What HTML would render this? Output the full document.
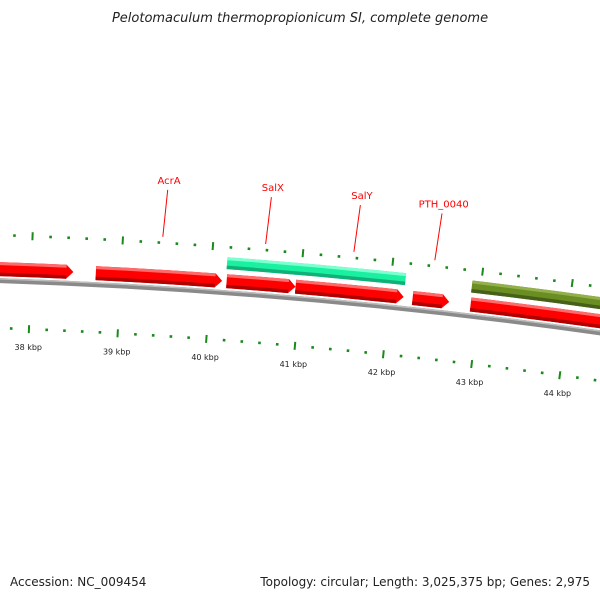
<!DOCTYPE html>
<html><head><meta charset="utf-8">
<style>
html,body{margin:0;padding:0;background:#fff;}
svg{display:block;font-family:"DejaVu Sans","Liberation Sans",sans-serif;}
</style></head>
<body>
<svg id="chart" width="600" height="600" viewBox="0 0 600 600">
<text x="300" y="22" text-anchor="middle" font-size="13" font-style="italic" fill="#222">Pelotomaculum thermopropionicum SI, complete genome</text>
<g id="ticks"></g>
<g id="backbone"></g>
<g id="genes"></g>
<g id="labels"></g>
<text x="10" y="586" font-size="12" fill="#222">Accession: NC_009454</text>
<text x="590" y="586" font-size="12" fill="#222" text-anchor="end">Topology: circular; Length: 3,025,375 bp; Genes: 2,975</text>
</svg>
<script>
// data
const geneStarts = [36.0, 38.72, 40.18, 40.95, 42.26, 42.91, 40.17, 42.90];
const geneEnds   = [38.47, 40.13, 40.95, 42.16, 42.67, 46.0, 42.16, 46.0];
const geneRows   = [0, 0, 0, 0, 0, 0, 1, 1];
const geneKinds  = ['cds','cds','cds','cds','cds','cds','cyan','olive'];
const tickLabelsKbp = [37, 38, 39, 40, 41, 42, 43, 44, 45];
const geneLabelNames = ['AcrA', 'SalX', 'SalY', 'PTH_0040'];
const geneLabelKbp = [39.44, 40.58, 41.56, 42.46];

const NS = 'http://www.w3.org/2000/svg';
const CX = -187, CY = 5902, R = 5625;
const PHI38 = 0.03873, DPHI = 0.01593;
function ang(k){ return PHI38 + (k-38)*DPHI; }
function pt(r, a){ return [CX + r*Math.sin(a), CY - r*Math.cos(a)]; }
function mk(tag, attrs, parent){ const e=document.createElementNS(NS,tag); for(const k in attrs) e.setAttribute(k,attrs[k]); parent.appendChild(e); return e; }
function arcBand(r1, r2, a1, a2, arrow){
  const rm=(r1+r2)/2;
  let ab = arrow ? a2 - 7/rm : a2;
  const p1=pt(r1,a1), p2=pt(r1,ab), p3=pt(r2,ab), p4=pt(r2,a1);
  let d=`M${p1[0]},${p1[1]} A${r1},${r1} 0 0 1 ${p2[0]},${p2[1]} `;
  if(arrow){ const t=pt(rm,a2); d+=`L${t[0]},${t[1]} `; }
  d+=`L${p3[0]},${p3[1]} A${r2},${r2} 0 0 0 ${p4[0]},${p4[1]} Z`;
  return d;
}
const tg=document.getElementById('ticks');
for(let i=36*5;i<=46*5;i++){
  const k=i/5, a=ang(k), major=(i%5===0);
  [R+45,R-48].forEach((rc)=>{
    const h = major?4:1.3;
    const p1=pt(rc-h,a), p2=pt(rc+h,a);
    const l=mk('line',{x1:p1[0],y1:p1[1],x2:p2[0],y2:p2[1],stroke:'#1a8a1a','stroke-width':major?2:2.6},tg);
    
    
  });
}
tickLabelsKbp.forEach(k=>{
  const p=pt(R-66,ang(k));
  const t=mk('text',{x:p[0],y:p[1]+3,'font-size':8,'text-anchor':'middle',fill:'#222'},tg);
  t.textContent=k+' kbp';
  
  
});
const bg=document.getElementById('backbone');
const a0=ang(35), a1=ang(47);
let p=mk('path',{d:arcBand(R+2,R-3,a0,a1,false),fill:'#8a8a8a'},bg);
 
p=mk('path',{d:arcBand(R+2,R+0.5,a0,a1,false),fill:'#bdbdbd'},bg);
 

const gg=document.getElementById('genes');
const colors={cds:['#ff0000','#ff6a6a','#b00000'],cyan:['#19f0a0','#7dffd0','#10b078'],olive:['#6b8e23','#93b04c','#46601a']};
geneStarts.forEach((s,i)=>{
  const row=geneRows[i], kind=geneKinds[i], arrow=(kind==='cds');
  const rc = row===0 ? R+11 : R+29, h = row===0?14:12;
  const r1=rc+h/2, r2=rc-h/2, aa=ang(s), ae=ang(geneEnds[i]);
  const c=colors[kind];
  const g=mk('g',{},gg);
  
  
  mk('path',{d:arcBand(r1,r2,aa,ae,arrow),fill:c[0]},g);
  mk('path',{d:arcBand(r1,r1-3,aa,arrow?ae-7/rc:ae,false),fill:c[1]},g);
  mk('path',{d:arcBand(r2+3.5,r2,aa,arrow?ae-7/rc:ae,false),fill:c[2]},g);
});

const lg=document.getElementById('labels');
geneLabelNames.forEach((n,i)=>{
  const a=ang(geneLabelKbp[i]);
  const q1=pt(R+51,a), q2=pt(R+98,a);
  const l=mk('line',{x1:q1[0],y1:q1[1],x2:q2[0]+2,y2:q2[1],stroke:'#ff0000','stroke-width':1},lg);
   
  const tp=pt(R+104,a);
  const t=mk('text',{x:tp[0]+3,y:tp[1],'font-size':10,'text-anchor':'middle',fill:'#ff0000'},lg);
  t.textContent=n;
   
});
</script>
</body></html>
